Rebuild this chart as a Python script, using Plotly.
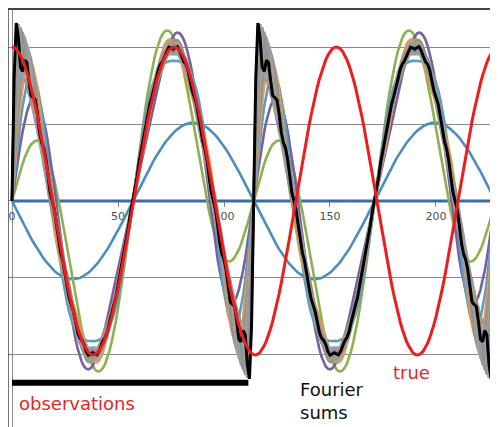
import numpy as np
import plotly.graph_objects as go

# ---- data ----
window_length = 114.0          # length of the observation window (x units)
true_period = 76.5             # period of the true cosine signal
true_amplitude = 1.0
x_end = 229.0                  # last x shown
# Fourier sine coefficients b_n (n = 1..25) of the observed window
fourier_b = [-0.509, 0.728, 0.283, 0.185, 0.140, 0.113, 0.095, 0.082, 0.073,
             0.065, 0.059, 0.054, 0.050, 0.046, 0.043, 0.040, 0.038, 0.036,
             0.034, 0.032, 0.031, 0.029, 0.028, 0.027, 0.026]
sum_orders = list(range(0, 26))   # partial sums S_0 ... S_25
obs_start, obs_end, obs_level = 0.0, 111.5, -1.18
tick_vals = [0, 50, 100, 150, 200]
tick_text = ["0", "50", "100", "150", "200"]

# ---- styles ----
first_colors = ["#3D6CA3", "#4A8DBE", "#8CB150", "#7561A0", "#5A9CC4", "#E09A52"]
band_colors = ["#9C8E7E", "#8E98A8", "#A3A3A3", "#9AA58C", "#968CA5", "#8BA5AD",
               "#B49A7A", "#7F8FA6", "#A88E8C", "#93A083", "#8C829E", "#7FA0AA",
               "#B0A090", "#8A8A8A", "#A0A8B4", "#B0A8A0", "#9A9A9A", "#A59C90",
               "#8F9499"]

x = np.arange(0, x_end + 0.001, 1.0)
phase = 2 * np.pi * x / window_length

fig = go.Figure()

for n in sum_orders:
    s = np.zeros_like(x)
    for m in range(1, n + 1):
        s += fourier_b[m - 1] * np.sin(m * phase)
    if n == sum_orders[-1]:
        color, width = "#000000", 3
    elif n < len(first_colors):
        color, width = first_colors[n], 2.6 if n > 0 else 3
    else:
        color, width = band_colors[(n - len(first_colors)) % len(band_colors)], 2.4
    fig.add_trace(go.Scatter(x=x, y=s, mode="lines",
                             line=dict(color=color, width=width),
                             showlegend=False, hoverinfo="skip"))

true_y = true_amplitude * np.cos(2 * np.pi * x / true_period)
fig.add_trace(go.Scatter(x=x, y=true_y, mode="lines",
                         line=dict(color="#EE1D1D", width=3),
                         showlegend=False, hoverinfo="skip"))

fig.add_trace(go.Scatter(x=[obs_start, obs_end], y=[obs_level, obs_level],
                         mode="lines", line=dict(color="#000000", width=6),
                         showlegend=False, hoverinfo="skip"))

xmin, xmax = -1.887, 229.25
ymin, ymax = -1.468, 1.247

fig.update_layout(
    width=490, height=419,
    margin=dict(l=0, r=0, t=1, b=0),
    paper_bgcolor="white", plot_bgcolor="white",
    font=dict(family="DejaVu Sans"),
    xaxis=dict(range=[xmin, xmax], anchor="free",
               position=(0 - ymin) / (ymax - ymin),
               tickvals=tick_vals, ticktext=tick_text,
               tickfont=dict(size=11, color="#505050"),
               ticks="outside", ticklen=5, tickcolor="#888888",
               showgrid=False, zeroline=False, showline=False,
               layer="below traces"),
    yaxis=dict(range=[ymin, ymax], anchor="free",
               position=(0 - xmin) / (xmax - xmin),
               dtick=0.5, tick0=0, showticklabels=False,
               showgrid=True, gridcolor="#8A8A8A", gridwidth=1,
               zeroline=False, showline=True, linecolor="#8A8A8A",
               linewidth=1, layer="below traces"),
    shapes=[
        dict(type="line", xref="paper", yref="paper", x0=0, x1=1, y0=1, y1=1,
             line=dict(color="#444444", width=2)),
        dict(type="line", xref="paper", yref="paper", x0=0, x1=0, y0=0, y1=1,
             line=dict(color="#444444", width=1.5)),
    ],
    annotations=[
        dict(text="observations", x=2.4, y=-1.318, xref="x", yref="y",
             xanchor="left", yanchor="middle", showarrow=False,
             font=dict(size=18, color="#E0282A", family="DejaVu Sans")),
        dict(text="Fourier<br>sums", x=134.9, y=-1.30, xref="x", yref="y",
             xanchor="left", yanchor="middle", showarrow=False, align="left",
             font=dict(size=18, color="#111111", family="DejaVu Sans")),
        dict(text="true", x=178.8, y=-1.117, xref="x", yref="y",
             xanchor="left", yanchor="middle", showarrow=False,
             font=dict(size=18, color="#E0282A", family="DejaVu Sans")),
    ],
)

fig.write_html("out.html")
